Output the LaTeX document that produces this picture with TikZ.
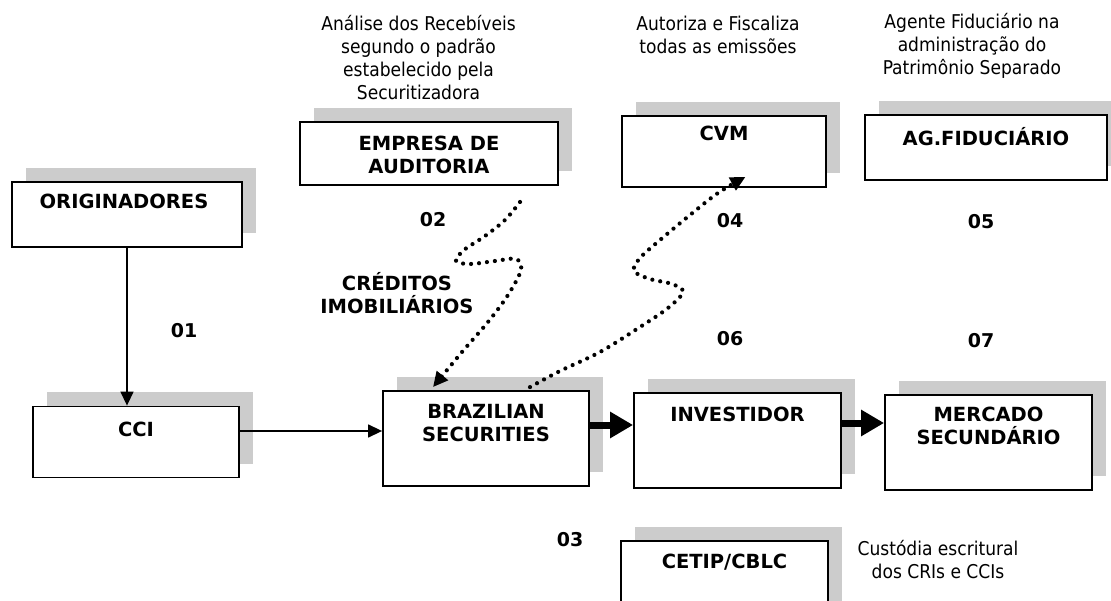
\documentclass[tikz,border=0pt]{standalone}
\usepackage{fontspec}
\setmainfont{DejaVu Sans}
\newfontfamily\condfont{DejaVu Sans Condensed}
\usetikzlibrary{arrows.meta,shadows,calc}
\tikzset{
 box/.style={draw=black, line width=1.8pt, fill=white, rectangle, inner sep=0pt,
   drop shadow={shadow xshift=14pt, shadow yshift=14pt, fill=black!20, opacity=1}},
 lbl/.style={font=\fontsize{19.5}{23}\selectfont\bfseries, inner sep=0pt, align=center},
 num/.style={font=\fontsize{19}{22}\selectfont\bfseries, inner sep=0pt},
 note/.style={font=\condfont\fontsize{19}{23}\selectfont, inner sep=0pt, align=center},
 thinarr/.style={line width=1.4pt, -{Triangle[length=14pt,width=13pt]}},
 thickarr/.style={line width=7pt, -{Triangle[length=23pt,width=25pt]}},
 dotarr/.style={line width=4.2pt, line cap=round, dash pattern=on 0pt off 8pt, -{Triangle[length=15pt,width=14pt]}},
}
\begin{document}
\begin{tikzpicture}[x=1pt,y=-1pt]
\useasboundingbox[fill=white] (0,0) rectangle (1111,601);

% boxes
\node[box, minimum width=230pt, minimum height=65pt] (orig) at (127,214.5) {};
\node[box, minimum width=206pt, minimum height=71pt] (cci) at (136,442) {};
\node[box, minimum width=206pt, minimum height=95pt] (braz) at (486,438.5) {};
\node[box, minimum width=207pt, minimum height=95pt] (inv) at (737.5,440.5) {};
\node[box, minimum width=207pt, minimum height=95pt] (merc) at (988.5,442.5) {};
\node[box, minimum width=258pt, minimum height=63pt] (emp) at (429,153.5) {};
\node[box, minimum width=204pt, minimum height=71pt] (cvm) at (724,151.5) {};
\node[box, minimum width=242pt, minimum height=65pt] (ag) at (986,147.5) {};
\node[box, minimum width=207pt, minimum height=80pt] (cetip) at (724.5,581) {};

% box texts
\node[lbl] (origT) at (124,201) {ORIGINADORES};
\node[lbl] (cciT) at (136,429) {CCI};
\node[lbl] (brazT) at (486,423.5) {BRAZILIAN\\SECURITIES};
\node[lbl] (invT) at (737.5,414) {INVESTIDOR};
\node[lbl] (mercT) at (988.5,425.5) {MERCADO\\SECUNDÁRIO};
\node[lbl] (empT) at (429,155) {EMPRESA DE\\AUDITORIA};
\node[lbl] (cvmT) at (724,133) {CVM};
\node[lbl] (agT) at (986,137) {AG.FIDUCIÁRIO};
\node[lbl] (cetipT) at (724.5,562) {CETIP/CBLC};

% numbers
\node[num] (n01) at (184,331) {01};
\node[num] (n02) at (433,220) {02};
\node[num] (n03) at (570,540) {03};
\node[num] (n04) at (730,221) {04};
\node[num] (n05) at (981,222) {05};
\node[num] (n06) at (730,339) {06};
\node[num] (n07) at (981,341) {07};
\node[lbl] (cred) at (397,293) {CRÉDITOS\\IMOBILIÁRIOS};

% notes
\node[note] (audN) at (418.5,58) {Análise dos Recebíveis\\segundo o padrão\\estabelecido pela\\Securitizadora};
\node[note] (cvmN) at (718,34.5) {Autoriza e Fiscaliza\\todas as emissões};
\node[note] (agN) at (972,45.5) {Agente Fiduciário na\\administração do\\Patrimônio Separado};
\node[note] (cetN) at (938,560) {Custódia escritural\\dos CRIs e CCIs};

% connectors
\draw[thinarr] (orig.south) -- (orig.south |- cci.north);
\draw[thinarr] ([yshift=11pt]cci.east) -- ([yshift=11pt]cci.east -| braz.west);
\draw[thickarr] ([yshift=13.5pt]braz.east) -- ([yshift=13.5pt]braz.east -| inv.west);
\draw[thickarr] ([yshift=17.5pt]inv.east) -- ([yshift=17.5pt]inv.east -| merc.west);

\coordinate (d1s) at (520,202);
\coordinate (d1e) at ([xshift=-53pt,yshift=3pt]braz.north);
\draw[dotarr] plot[smooth, tension=0.55] coordinates {(d1s) (505,220) (485,236) (464,250) (456,261) (470,264) (495,261) (516,259) (521,270) (508,295) (488,322) (462,352) (d1e)};

\coordinate (d2s) at ([xshift=44pt,yshift=3pt]braz.north);
\coordinate (d2e) at ([xshift=21.5pt,yshift=11pt]cvm.south);
\draw[dotarr] plot[smooth, tension=0.55] coordinates {(d2s) (560,371) (600,352) (640,327) (668,308) (683,292) (672,284) (650,279) (634,271) (640,258) (660,240) (690,215) (718,193) (d2e)};
\end{tikzpicture}
\end{document}
